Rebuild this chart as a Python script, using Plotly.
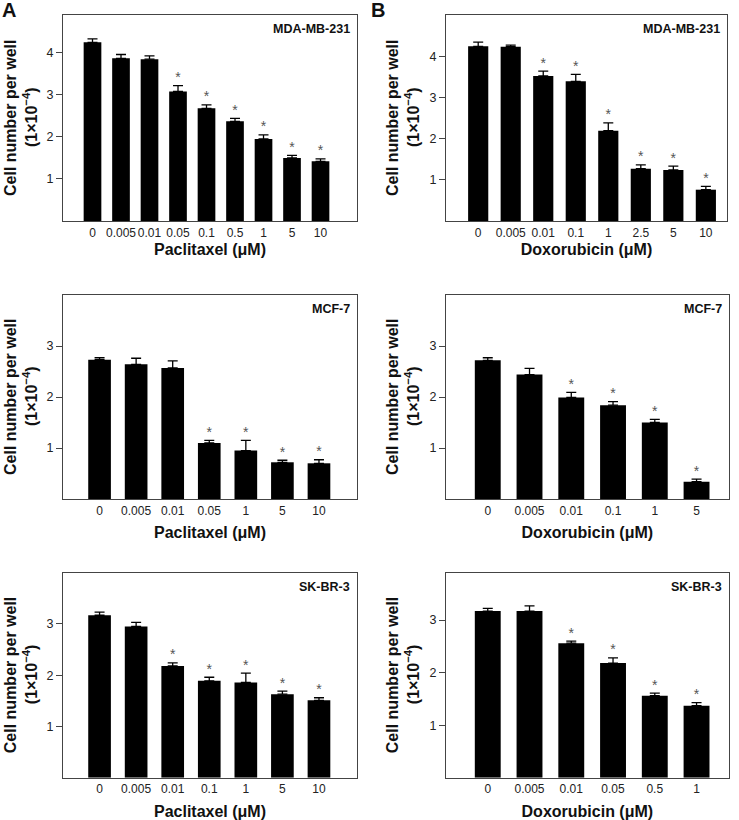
import plotly.graph_objects as go

# values (cells per well, x1e-4)
pac_mda_dose = ['0', '0.005', '0.01', '0.05', '0.1', '0.5', '1', '5', '10']
pac_mda_mean = [4.25, 3.87, 3.85, 3.08, 2.68, 2.37, 1.95, 1.50, 1.42]
pac_mda_err = [0.08, 0.09, 0.08, 0.14, 0.08, 0.07, 0.10, 0.06, 0.06]
pac_mda_sig = [0, 0, 0, 1, 1, 1, 1, 1, 1]

dox_mda_dose = ['0', '0.005', '0.01', '0.1', '1', '2.5', '5', '10']
dox_mda_mean = [4.24, 4.23, 3.52, 3.39, 2.19, 1.27, 1.24, 0.76]
dox_mda_err = [0.10, 0.04, 0.12, 0.17, 0.19, 0.09, 0.09, 0.08]
dox_mda_sig = [0, 0, 1, 1, 1, 1, 1, 1]

pac_mcf_dose = ['0', '0.005', '0.01', '0.05', '1', '5', '10']
pac_mcf_mean = [2.73, 2.64, 2.57, 1.10, 0.95, 0.72, 0.70]
pac_mcf_err = [0.04, 0.12, 0.14, 0.05, 0.20, 0.04, 0.07]
pac_mcf_sig = [0, 0, 0, 1, 1, 1, 1]

dox_mcf_dose = ['0', '0.005', '0.01', '0.1', '1', '5']
dox_mcf_mean = [2.72, 2.44, 1.99, 1.84, 1.50, 0.34]
dox_mcf_err = [0.05, 0.12, 0.10, 0.07, 0.06, 0.05]
dox_mcf_sig = [0, 0, 1, 1, 1, 1]

pac_skbr_dose = ['0', '0.005', '0.01', '0.1', '1', '5', '10']
pac_skbr_mean = [3.17, 2.95, 2.18, 1.89, 1.86, 1.63, 1.51]
pac_skbr_err = [0.06, 0.08, 0.06, 0.07, 0.18, 0.06, 0.05]
pac_skbr_sig = [0, 0, 1, 1, 1, 1, 1]

dox_skbr_dose = ['0', '0.005', '0.01', '0.05', '0.5', '1']
dox_skbr_mean = [3.17, 3.17, 2.56, 2.18, 1.56, 1.37]
dox_skbr_err = [0.05, 0.10, 0.04, 0.10, 0.05, 0.06]
dox_skbr_sig = [0, 0, 1, 1, 1, 1]

W, H = 739, 820
FONT = 'Liberation Sans, Arial, sans-serif'

# (doses, means, errs, sig, cell line, drug, px box [l, r, top, bottom], xrange, yrange, yticks, title gap)
panels = [
    (pac_mda_dose, pac_mda_mean, pac_mda_err, pac_mda_sig, 'MDA-MB-231', 'Paclitaxel',
     [63, 357, 15, 221], [-1.035, 9.28], [0, 4.9], [1, 2, 3, 4], 5),
    (dox_mda_dose, dox_mda_mean, dox_mda_err, dox_mda_sig, 'MDA-MB-231', 'Doxorubicin',
     [446, 727, 15, 221], [-0.99, 7.65], [0, 5.0], [1, 2, 3, 4], 5),
    (pac_mcf_dose, pac_mcf_mean, pac_mcf_err, pac_mcf_sig, 'MCF-7', 'Paclitaxel',
     [63, 357, 295, 499], [-1.0, 7.04], [0, 4.0], [1, 2, 3], 10),
    (dox_mcf_dose, dox_mcf_mean, dox_mcf_err, dox_mcf_sig, 'MCF-7', 'Doxorubicin',
     [446, 728.7, 295, 499], [-1.0, 5.77], [0, 4.0], [1, 2, 3], 10),
    (pac_skbr_dose, pac_skbr_mean, pac_skbr_err, pac_skbr_sig, 'SK-BR-3', 'Paclitaxel',
     [63, 357, 572.7, 777.7], [-1.0, 7.04], [0, 4.0], [1, 2, 3], 10),
    (dox_skbr_dose, dox_skbr_mean, dox_skbr_err, dox_skbr_sig, 'SK-BR-3', 'Doxorubicin',
     [446, 728.7, 572.7, 777.7], [-1.0, 5.77], [0, 3.9], [1, 2, 3], 10),
]

fig = go.Figure()
layout = dict(
    width=W, height=H,
    margin=dict(l=0, r=0, t=0, b=0),
    paper_bgcolor='white', plot_bgcolor='white',
    showlegend=False,
    font=dict(family=FONT, color='#222'),
    annotations=[],
)

for i, (dose, mean, err, sig, cell, drug, box, xr, yr, yt, gap) in enumerate(panels):
    n = '' if i == 0 else str(i + 1)
    xa, ya = 'x' + n, 'y' + n
    fig.add_trace(go.Bar(
        x=dose, y=mean, xaxis=xa, yaxis=ya,
        marker=dict(color='black', line=dict(width=0)),
        width=0.62,
        error_y=dict(type='data', array=err, arrayminus=[0] * len(err), symmetric=False,
                     color='black', thickness=1.3, width=5),
    ))
    sx = [d for d, s in zip(dose, sig) if s]
    sy = [m + e for m, e, s in zip(mean, err, sig) if s]
    fig.add_trace(go.Scatter(
        x=sx, y=sy, xaxis=xa, yaxis=ya, mode='text', text=['*'] * len(sx),
        textposition='top center', textfont=dict(size=14, color='#555', family=FONT),
        hoverinfo='skip',
    ))
    l, r, t, b = box
    layout['xaxis' + n] = dict(
        domain=[l / W, r / W], anchor=ya, type='category', range=xr,
        showline=True, mirror=True, linecolor='#444', linewidth=1.3,
        ticks='', showgrid=False, zeroline=False, tickangle=0,
        tickfont=dict(size=12, color='#222'),
        title=dict(text=drug + ' (μM)', standoff=gap,
                   font=dict(size=16, weight='bold', color='#111')),
    )
    layout['yaxis' + n] = dict(
        domain=[1 - b / H, 1 - t / H], anchor=xa, range=yr,
        tickvals=yt, ticks='outside', ticklen=6, tickwidth=1, tickcolor='#444',
        showline=True, mirror=True, linecolor='#444', linewidth=1.3,
        showgrid=False, zeroline=False,
        tickfont=dict(size=12.5, color='#222'),
    )
    layout['annotations'].append(dict(
        text=cell, xref=xa + ' domain', yref=ya + ' domain', x=1, y=1,
        xanchor='right', yanchor='top', xshift=-5, yshift=-5, showarrow=False,
        font=dict(size=12.5, weight='bold', color='#111'),
    ))
    yc = 1 - (t + b) / 2 / H
    tx = 10 if l < 200 else 392
    layout['annotations'].append(dict(
        text='Cell number per well', xref='paper', yref='paper', x=tx / W, y=yc,
        textangle=-90, showarrow=False, xanchor='center', yanchor='middle',
        font=dict(size=16, weight='bold', color='#111'),
    ))
    layout['annotations'].append(dict(
        text='(1×10<sup>−4</sup>)', xref='paper', yref='paper', x=(tx + 20) / W, y=yc,
        textangle=-90, showarrow=False, xanchor='center', yanchor='middle',
        font=dict(size=16, weight='bold', color='#111'),
    ))

for letter, px in [('A', 0), ('B', 369)]:
    layout['annotations'].append(dict(
        text=letter, xref='paper', yref='paper', x=px / W, y=1,
        xanchor='left', yanchor='top', showarrow=False, yshift=3,
        font=dict(size=20, weight='bold', color='#111'),
    ))

fig.update_layout(**layout)
fig.write_html('out.html', config={'displayModeBar': False},
               post_script="document.body.style.margin='0';")
